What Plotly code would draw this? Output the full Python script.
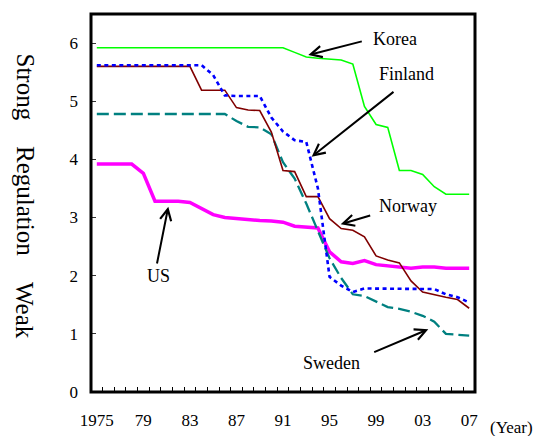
import plotly.graph_objects as go

# ---------------- data ----------------
years = list(range(1975, 2008))

korea = [5.92, 5.92, 5.92, 5.92, 5.92, 5.92, 5.92, 5.92, 5.92, 5.92,
         5.92, 5.92, 5.92, 5.92, 5.92, 5.92, 5.92, 5.84, 5.76, 5.74,
         5.73, 5.71, 5.64, 4.91, 4.60, 4.55, 3.81, 3.81, 3.74, 3.53,
         3.40, 3.40, 3.40]

finland = [5.62, 5.62, 5.62, 5.62, 5.62, 5.62, 5.62, 5.62, 5.62, 5.62,
           5.45, 5.10, 5.09, 5.09, 5.09, 4.72, 4.48, 4.33, 4.30, 3.50,
           1.98, 1.83, 1.72, 1.78, 1.78, 1.78, 1.78, 1.78, 1.78, 1.77,
           1.68, 1.63, 1.54]

norway = [5.60, 5.60, 5.60, 5.60, 5.60, 5.60, 5.60, 5.60, 5.60, 5.19,
          5.19, 5.19, 4.89, 4.85, 4.84, 4.47, 3.81, 3.79, 3.36, 3.36,
          2.98, 2.81, 2.78, 2.67, 2.34, 2.27, 2.22, 1.91, 1.72, 1.67,
          1.63, 1.59, 1.44]

sweden = [4.78, 4.78, 4.78, 4.78, 4.78, 4.78, 4.78, 4.78, 4.78, 4.78,
          4.78, 4.78, 4.66, 4.56, 4.55, 4.43, 3.95, 3.67, 3.24, 2.76,
          2.30, 1.96, 1.68, 1.65, 1.55, 1.46, 1.43, 1.38, 1.31, 1.21,
          1.00, 0.99, 0.97]

us = [3.92, 3.92, 3.92, 3.92, 3.76, 3.28, 3.28, 3.28, 3.26, 3.15,
      3.05, 3.00, 2.98, 2.97, 2.95, 2.94, 2.92, 2.85, 2.83, 2.82,
      2.41, 2.24, 2.21, 2.26, 2.19, 2.17, 2.14, 2.13, 2.15, 2.15,
      2.13, 2.13, 2.13]

xtick_vals = [1975, 1979, 1983, 1987, 1991, 1995, 1999, 2003, 2007]
xtick_text = ["1975", "79", "83", "87", "91", "95", "99", "03", "07"]
ytick_vals = [0, 1, 2, 3, 4, 5, 6]

# ---------------- layout helpers ----------------
W, H = 542, 436
L, R, T, B = 91, 475, 14, 392
SERIF = "Liberation Serif"


def paper(px, py):
    return (px - L) / (R - L), (B - py) / (B - T)


fig = go.Figure()

fig.add_trace(go.Scatter(x=years, y=us, mode="lines", name="US",
                         line=dict(color="#FF00FF", width=3.5)))
fig.add_trace(go.Scatter(x=years, y=sweden, mode="lines", name="Sweden",
                         line=dict(color="#008080", width=2.3, dash="12px,5px")))
fig.add_trace(go.Scatter(x=years, y=norway, mode="lines", name="Norway",
                         line=dict(color="#800000", width=1.6)))
fig.add_trace(go.Scatter(x=years, y=finland, mode="lines", name="Finland",
                         line=dict(color="#0000FF", width=2.6, dash="4px,3.5px")))
fig.add_trace(go.Scatter(x=years, y=korea, mode="lines", name="Korea",
                         line=dict(color="#00FF00", width=1.6)))

annotations = []

# country labels
labels = [("Korea", 394.7, 39), ("Finland", 406, 74), ("Norway", 407.5, 206),
          ("Sweden", 331.5, 363), ("US", 158.3, 276)]
for txt, px, py in labels:
    xp, yp = paper(px, py)
    annotations.append(dict(text=txt, x=xp, y=yp, xref="paper", yref="paper",
                            showarrow=False, xanchor="center", yanchor="middle",
                            font=dict(family=SERIF, size=18, color="black")))

# arrows (tail -> tip, pixel positions)
arrows = [((363.3, 41), (308.3, 55)),
          ((395, 90.7), (311.7, 156.7)),
          ((371.7, 215), (340.7, 224.3)),
          ((372.7, 352.7), (428.3, 329.3)),
          ((156.7, 265), (168.3, 206.7))]
for (tx, ty), (hx, hy) in arrows:
    xp, yp = paper(hx, hy)
    annotations.append(dict(text="", x=xp, y=yp, xref="paper", yref="paper",
                            showarrow=True, ax=tx - hx, ay=ty - hy,
                            axref="pixel", ayref="pixel",
                            arrowhead=5, arrowsize=1.1, arrowwidth=2,
                            arrowcolor="black"))

# y axis title words (rotated)
for txt, py in [("Strong", 86.5), ("Regulation", 201), ("Weak", 310)]:
    xp, yp = paper(25, py)
    annotations.append(dict(text=txt, x=xp, y=yp, xref="paper", yref="paper",
                            showarrow=False, textangle=90,
                            xanchor="center", yanchor="middle",
                            font=dict(family=SERIF, size=25, color="black")))

# (Year)
xp, yp = paper(488, 427)
annotations.append(dict(text="(Year)", x=xp, y=yp, xref="paper", yref="paper",
                        showarrow=False, xanchor="left", yanchor="middle",
                        font=dict(family=SERIF, size=17, color="black")))

fig.update_layout(
    width=W, height=H,
    margin=dict(l=L, r=W - R, t=T, b=H - B, pad=0),
    paper_bgcolor="white", plot_bgcolor="white",
    showlegend=False,
    font=dict(family=SERIF, size=17, color="black"),
    annotations=annotations,
    shapes=[dict(type="rect", xref="paper", yref="paper", x0=0, x1=1, y0=0, y1=1,
                 line=dict(color="black", width=3), layer="above")],
    xaxis=dict(range=[1974.5, 2007.5], tickmode="array", tickvals=xtick_vals,
               ticktext=xtick_text, ticks="", showgrid=False, zeroline=False,
               showline=False, ticklabelstandoff=16, automargin=False,
               tickfont=dict(family=SERIF, size=17, color="black"),
               minor=dict(ticks="inside", ticklen=5, tickwidth=1, tickcolor="black",
                          tickvals=[1975.5 + k for k in range(32)], showgrid=False)),
    yaxis=dict(range=[0, 6.5], tickmode="array", tickvals=ytick_vals,
               ticks="inside", ticklen=5, tickwidth=1, tickcolor="#333333",
               showgrid=False, zeroline=False, showline=False,
               ticklabelstandoff=12, automargin=False,
               tickfont=dict(family=SERIF, size=17, color="black")),
)

fig.write_html("out.html",
               config={"displayModeBar": False},
               post_script="document.body.style.margin='0px';"
                           "document.body.style.overflow='hidden';")
